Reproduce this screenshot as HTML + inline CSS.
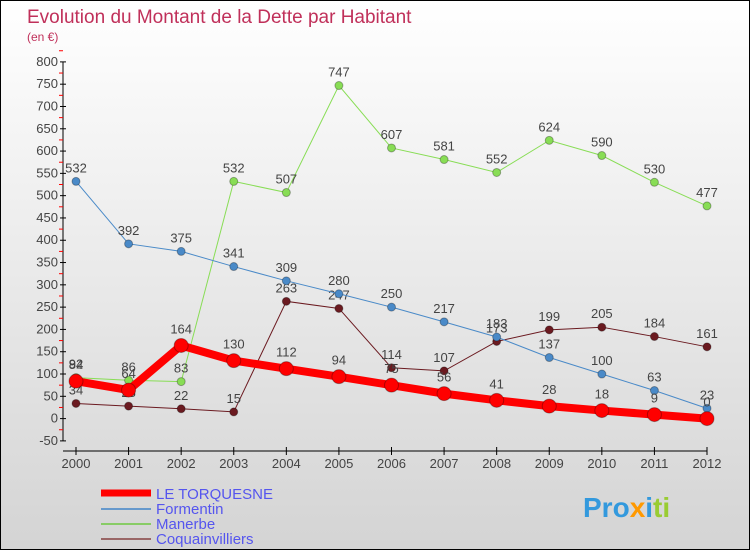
<!DOCTYPE html>
<html><head><meta charset="utf-8"><style>
body{margin:0}
#c{width:750px;height:550px;position:relative;box-sizing:border-box;border:1px solid #000;background:linear-gradient(#fff,#d4d4d4);font-family:"Liberation Sans",sans-serif;overflow:hidden}
svg text{font-family:"Liberation Sans",sans-serif}
</style></head><body>
<div id="c">
<svg width="750" height="550" id="s">
<text x="26" y="22" font-size="19" fill="#c0305a">Evolution du Montant de la Dette par Habitant</text>
<text x="26" y="40" font-size="12" fill="#c0305a">(en €)</text>
<g id="ax"></g><g id="ser"></g>
<g>
<line x1="100" y1="492" x2="150" y2="492" stroke="#f00" stroke-width="7"/>
<text x="155" y="498" font-size="15" fill="#5555ee">LE TORQUESNE</text>
<line x1="100" y1="508" x2="150" y2="508" stroke="#6699cc" stroke-width="2"/>
<text x="155" y="513" font-size="15" fill="#5555ee">Formentin</text>
<line x1="100" y1="523" x2="150" y2="523" stroke="#88cc66" stroke-width="2"/>
<text x="155" y="528" font-size="15" fill="#5555ee">Manerbe</text>
<line x1="100" y1="538" x2="150" y2="538" stroke="#996666" stroke-width="2"/>
<text x="155" y="543" font-size="15" fill="#5555ee">Coquainvilliers</text>
</g>
<text x="582" y="516" font-size="28" font-weight="bold"><tspan fill="#3399dd">Pro</tspan><tspan fill="#ff9900">x</tspan><tspan fill="#3399dd">i</tspan><tspan fill="#99cc33">ti</tspan></text>
</svg>
</div>
<script>
const years=[2000,2001,2002,2003,2004,2005,2006,2007,2008,2009,2010,2011,2012];
const yTicks=[-50,0,50,100,150,200,250,300,350,400,450,500,550,600,650,700,750,800];
const torquesne=[84,64,164,130,112,94,75,56,41,28,18,9,0];
const formentin=[532,392,375,341,309,280,250,217,183,137,100,63,23];
const manerbe=[92,86,83,532,507,747,607,581,552,624,590,530,477];
const coquain=[34,28,22,15,263,247,114,107,173,199,205,184,161];
const NS="http://www.w3.org/2000/svg";
const X=i=>75+i*(706-75)/12;
const Y=v=>417.6-v*(440-61)/850;
function mk(t,a,p){const e=document.createElementNS(NS,t);for(const k in a)e.setAttribute(k,a[k]);p.appendChild(e);return e;}
const ax=document.getElementById('ax'),ser=document.getElementById('ser');
let l=mk('line',{x1:62,y1:61,x2:62,y2:440,stroke:'#000'},ax);


l=mk('line',{x1:62,y1:450,x2:706,y2:450,stroke:'#000'},ax);


yTicks.forEach(v=>{const y=Y(v);mk('line',{x1:59,y1:y,x2:65,y2:y,stroke:'#000'},ax);
mk('line',{x1:58,y1:Y(v+25),x2:62,y2:Y(v+25),stroke:'#f00'},ax);
const t=mk('text',{x:57,y:y+4,'font-size':13,fill:'#444','text-anchor':'end'},ax);t.textContent=v;

});
years.forEach((yr,i)=>{mk('line',{x1:X(i),y1:446,x2:X(i),y2:454,stroke:'#000'},ax);
const t=mk('text',{x:X(i),y:467,'font-size':13,fill:'#444','text-anchor':'middle'},ax);t.textContent=yr;

});
function series(d,col,w,r,name){
const g=mk('g',{},ser);


const p=mk('polyline',{points:d.map((v,i)=>X(i)+','+Y(v)).join(' '),fill:'none',stroke:col,'stroke-width':w},g);
d.forEach((v,i)=>{const c=mk('circle',{cx:X(i),cy:Y(v),r:r,fill:col,stroke:'rgba(0,0,0,0.3)'},g);


const t=mk('text',{x:X(i),y:Y(v)-(r+5),'font-size':13,fill:'#444','text-anchor':'middle'},g);t.textContent=v;

});}
series(coquain,'#6b1a20',1,4,'coquainvilliers');
series(manerbe,'#88dd55',1,4,'manerbe');
series(formentin,'#4a8ac8',1,4,'formentin');
series(torquesne,'#f00',8,7,'le-torquesne');
</script>
</body></html>
